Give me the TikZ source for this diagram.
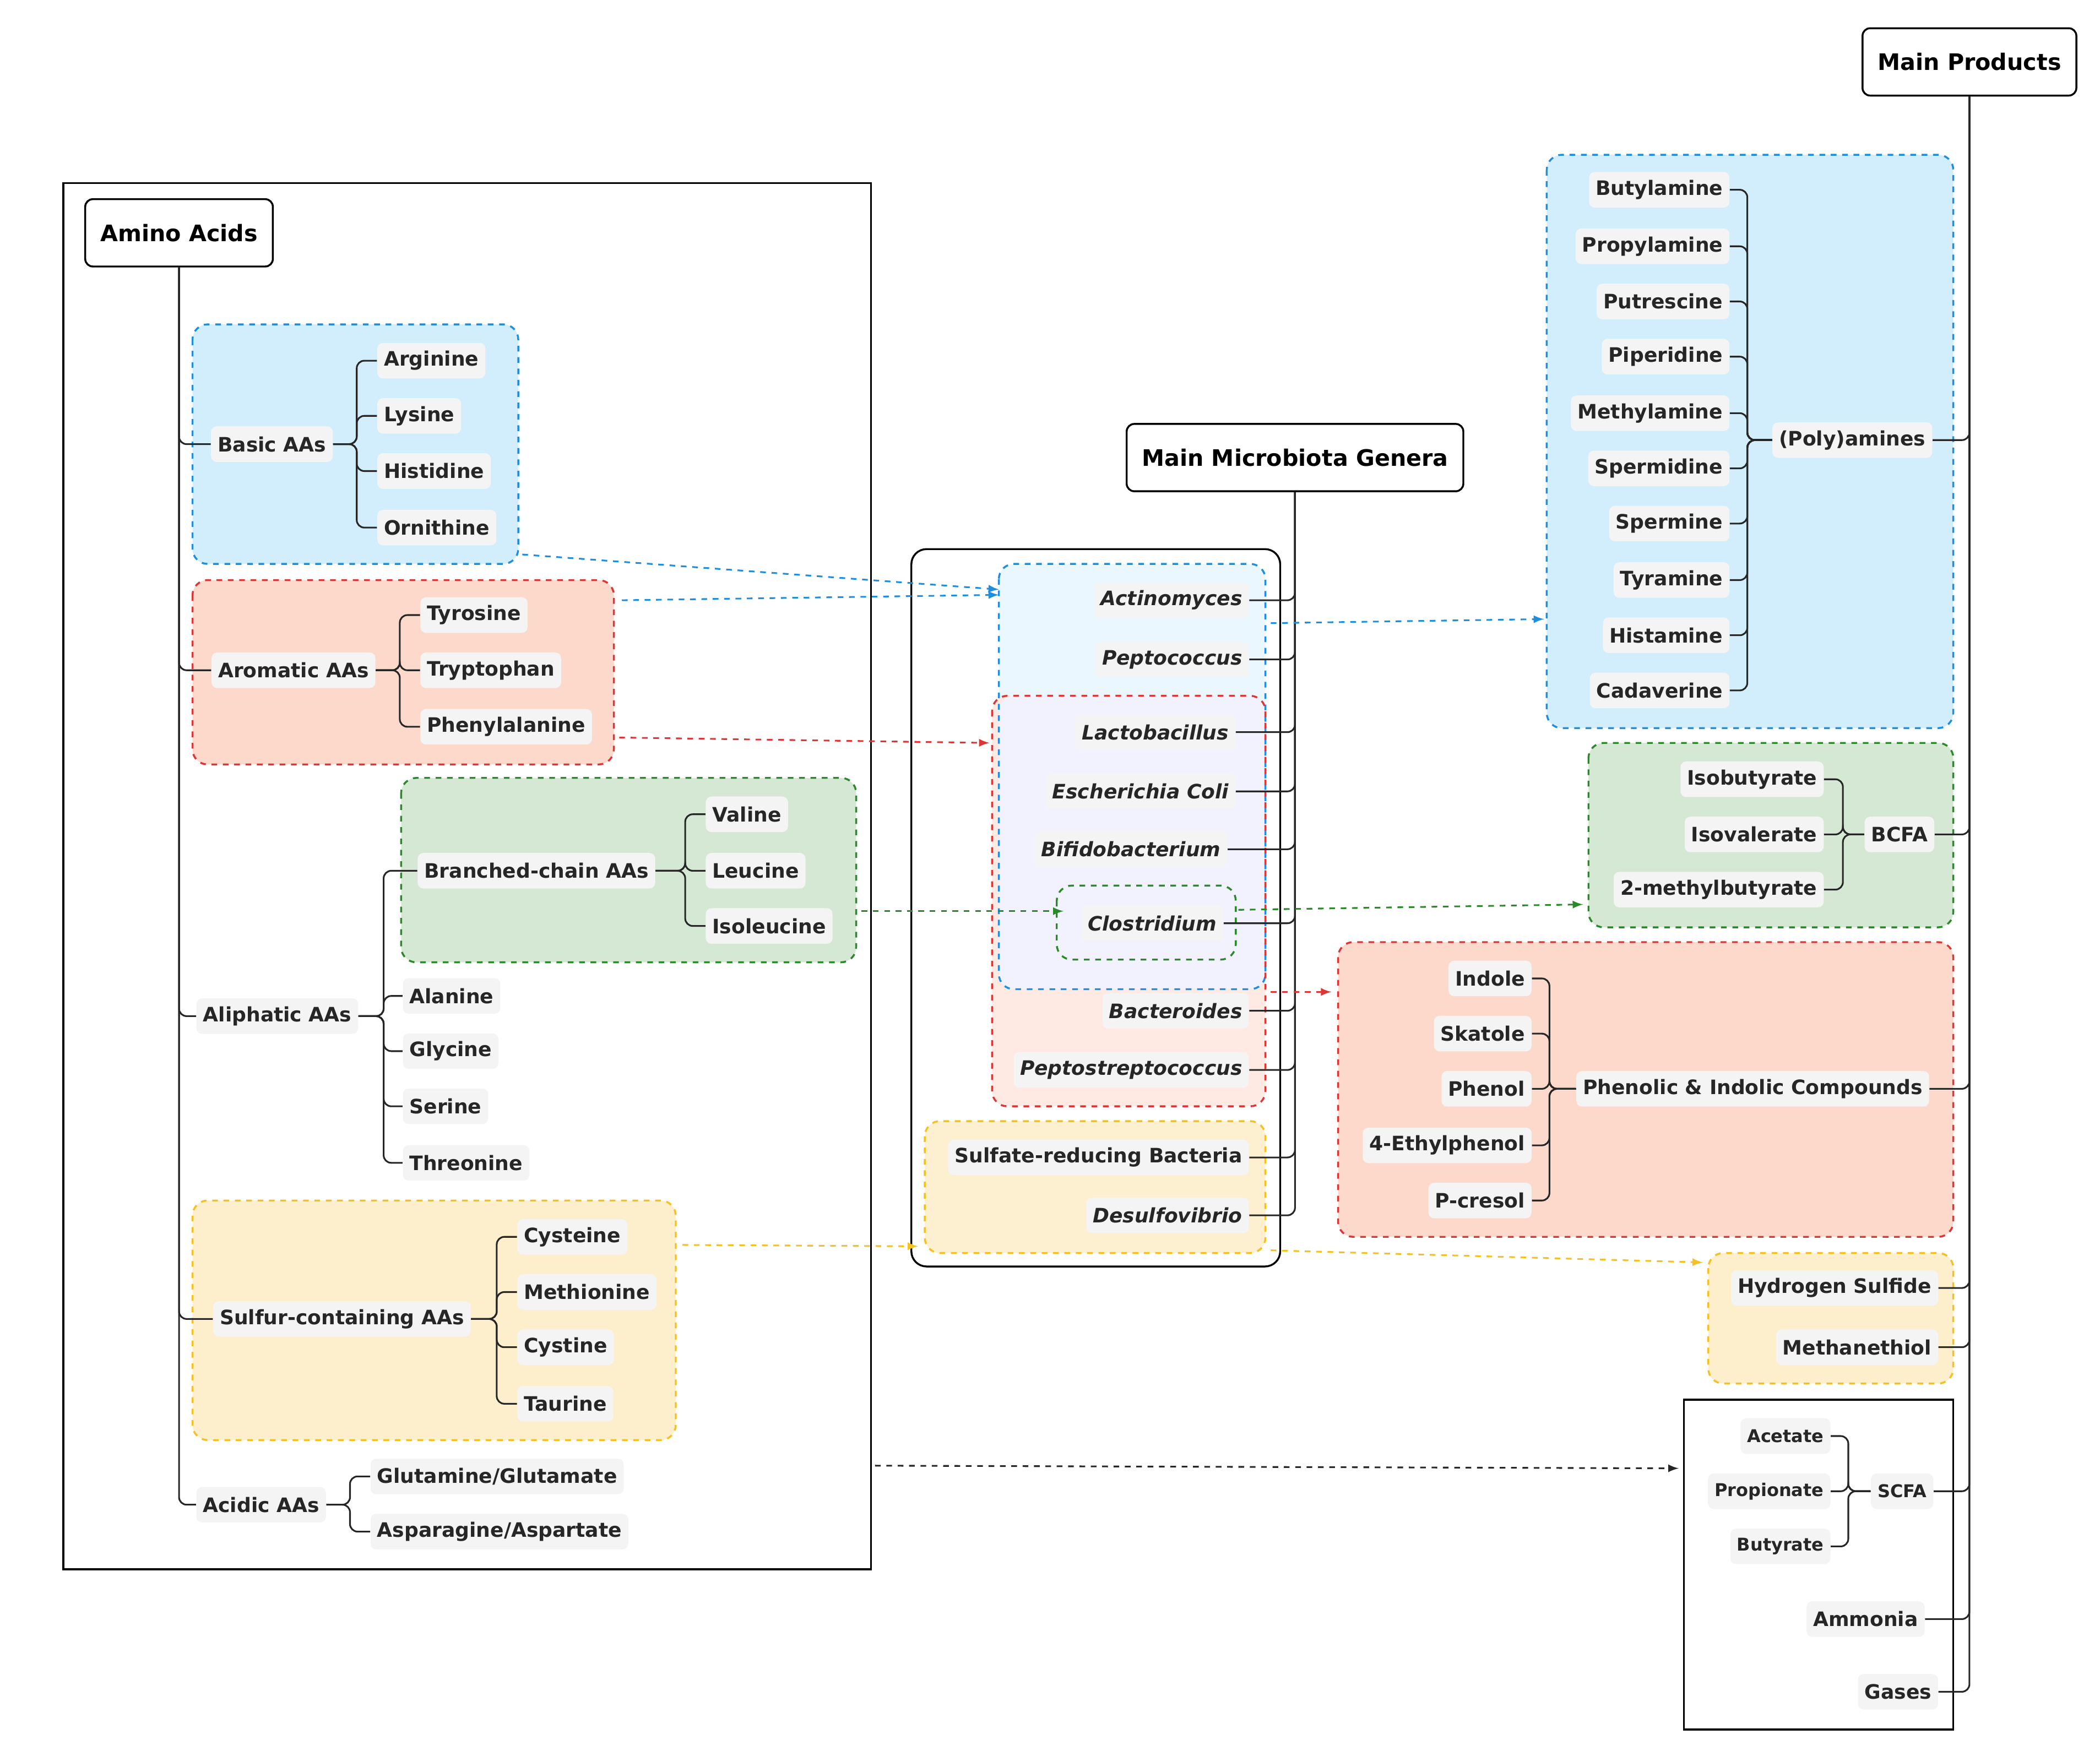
\documentclass[tikz,border=0pt]{standalone}
\usepackage{fontspec}
\setmainfont{DejaVu Sans}
\begin{document}
\begin{tikzpicture}[x=0.025cm,y=-0.025cm,
 lbl/.style={fill=gray!9,rounded corners=3pt,font=\fontsize{10.5}{12}\selectfont\bfseries,inner sep=3.5pt,minimum height=0.66cm,text=black!85},
 gen/.style={lbl,font=\fontsize{10.5}{12}\selectfont\bfseries\itshape},
 sml/.style={lbl,font=\fontsize{9.3}{11}\selectfont\bfseries},
 ttl/.style={draw=black,fill=white,rounded corners=4pt,line width=1pt,font=\fontsize{12}{14}\selectfont\bfseries,minimum height=1.25cm,inner xsep=8pt},
 ln/.style={draw=black!85,line width=0.9pt,rounded corners=4pt},
 dbox/.style={dashed,line width=1pt,rounded corners=8pt},
 arr/.style={dashed,line width=0.9pt,-latex}]
\useasboundingbox (0,0) rectangle (1560,1301);
\definecolor{bB}{HTML}{1E8FE0}\definecolor{bF}{HTML}{D2EEFC}
\definecolor{rB}{HTML}{E03535}\definecolor{rF}{HTML}{FDD9CC}
\definecolor{gB}{HTML}{2A8A2A}\definecolor{gF}{HTML}{D4E8D4}
\definecolor{yB}{HTML}{F5C020}\definecolor{yF}{HTML}{FDEECC}
% ---------------- left panel
\draw[line width=1pt] (47,136) rectangle (647,1166);
\draw[dbox,draw=bB,fill=bF] (143,241) rectangle (385,419);
\draw[dbox,draw=rB,fill=rF] (143,431) rectangle (456,568);
\draw[dbox,draw=gB,fill=gF] (298,578) rectangle (636,715);
\draw[dbox,draw=yB,fill=yF] (143,892) rectangle (502,1070);
\node[ttl] (aa) at (133,173) {Amino Acids};
\node[lbl] (basic) at (202,330) {Basic AAs};
\node[lbl] (arom) at (218,498) {Aromatic AAs};
\node[lbl] (aliph) at (206,755) {Aliphatic AAs};
\node[lbl] (sulf) at (254,980) {Sulfur-containing AAs};
\node[lbl] (acid) at (194,1118) {Acidic AAs};
\foreach \n in {basic,arom,aliph,sulf,acid} \draw[ln] (aa.south) |- (\n.west);
\node[lbl,anchor=west] (c1) at (280,268) {Arginine};
\node[lbl,anchor=west] (c2) at (280,309) {Lysine};
\node[lbl,anchor=west] (c3) at (280,350) {Histidine};
\node[lbl,anchor=west] (c4) at (280,392) {Ornithine};
\foreach \n in {c1,c2,c3,c4} \draw[ln] (basic.east) -- (265,330) |- (\n.west);
\node[lbl,anchor=west] (d1) at (312,457) {Tyrosine};
\node[lbl,anchor=west] (d2) at (312,498) {Tryptophan};
\node[lbl,anchor=west] (d3) at (312,540) {Phenylalanine};
\foreach \n in {d1,d2,d3} \draw[ln] (arom.east) -- (297,498) |- (\n.west);
\node[lbl,anchor=west] (bc) at (310,647) {Branched-chain AAs};
\node[lbl,anchor=west] (e2) at (299,740) {Alanine};
\node[lbl,anchor=west] (e3) at (299,781) {Glycine};
\node[lbl,anchor=west] (e4) at (299,822) {Serine};
\node[lbl,anchor=west] (e5) at (299,864) {Threonine};
\foreach \n in {bc,e2,e3,e4,e5} \draw[ln] (aliph.east) -- (285,755) |- (\n.west);
\node[lbl,anchor=west] (f1) at (524,605) {Valine};
\node[lbl,anchor=west] (f2) at (524,647) {Leucine};
\node[lbl,anchor=west] (f3) at (524,688) {Isoleucine};
\foreach \n in {f1,f2,f3} \draw[ln] (bc.east) -- (509,647) |- (\n.west);
\node[lbl,anchor=west] (g1) at (384,919) {Cysteine};
\node[lbl,anchor=west] (g2) at (384,960) {Methionine};
\node[lbl,anchor=west] (g3) at (384,1001) {Cystine};
\node[lbl,anchor=west] (g4) at (384,1043) {Taurine};
\foreach \n in {g1,g2,g3,g4} \draw[ln] (sulf.east) -- (369,980) |- (\n.west);
\node[lbl,anchor=west] (h1) at (275,1097) {Glutamine/Glutamate};
\node[lbl,anchor=west] (h2) at (275,1138) {Asparagine/Aspartate};
\foreach \n in {h1,h2} \draw[ln] (acid.east) -- (260,1118) |- (\n.west);
% ---------------- middle panel
\draw[line width=1pt,rounded corners=8pt] (677,408) rectangle (951,941);
\fill[rounded corners=8pt,fill=bF!45] (742,419) rectangle (940,735);
\fill[rounded corners=8pt,fill=rF!55] (737,517) rectangle (940,822);
\fill[rounded corners=8pt,fill=black!10!blue!5] (742,517) rectangle (940,735);
\draw[dbox,draw=bB] (742,419) rectangle (940,735);
\draw[dbox,draw=rB] (737,517) rectangle (940,822);
\draw[dbox,draw=yB,fill=yF!90!white] (687,833) rectangle (940,931);
\draw[dbox,draw=gB,fill=black!10!blue!5] (785,658) rectangle (918,713);
\node[ttl] (mm) at (962,340) {Main Microbiota Genera};
\node[gen,anchor=east] (m1) at (928,446) {Actinomyces};
\node[gen,anchor=east] (m2) at (928,490) {Peptococcus};
\node[gen,anchor=east] (m3) at (918,544) {Lactobacillus};
\node[gen,anchor=east] (m4) at (918,588) {Escherichia Coli};
\node[gen,anchor=east] (m5) at (912,631) {Bifidobacterium};
\node[gen,anchor=east] (m6) at (909,686) {Clostridium};
\node[gen,anchor=east] (m7) at (928,751) {Bacteroides};
\node[gen,anchor=east] (m8) at (928,795) {Peptostreptococcus};
\node[lbl,anchor=east] (m9) at (928,860) {Sulfate-reducing Bacteria};
\node[gen,anchor=east] (m10) at (928,903) {Desulfovibrio};
\foreach \n in {m1,m2,m3,m4,m5,m6,m7,m8,m9,m10} \draw[ln] (\n.east) -| (mm.south);
% ---------------- right panel
\draw[dbox,draw=bB,fill=bF] (1149,115) rectangle (1451,541);
\draw[dbox,draw=gB,fill=gF] (1180,552) rectangle (1451,689);
\draw[dbox,draw=rB,fill=rF] (994,700) rectangle (1451,919);
\draw[dbox,draw=yB,fill=yF] (1269,931) rectangle (1451,1028);
\draw[line width=1pt] (1251,1040) rectangle (1451,1285);
\node[ttl] (mp) at (1463,46) {Main Products};
\node[lbl] (pa) at (1376,327) {(Poly)amines};
\foreach \t/\y [count=\i] in {Butylamine/141,Propylamine/183,Putrescine/224,Piperidine/265,Methylamine/307,Spermidine/348,Spermine/389,Tyramine/431,Histamine/472,Cadaverine/513}{
 \node[lbl,anchor=east] (p\i) at (1285,\y) {\t};
 \draw[ln] (pa.west) -- (1298,327) |- (p\i.east);}
\node[lbl] (bcfa) at (1411,620) {BCFA};
\node[lbl,anchor=east] (q1) at (1355,579) {Isobutyrate};
\node[lbl,anchor=east] (q2) at (1355,620) {Isovalerate};
\node[lbl,anchor=east] (q3) at (1355,661) {2-methylbutyrate};
\foreach \n in {q1,q2,q3} \draw[ln] (bcfa.west) -- (1369,620) |- (\n.east);
\node[lbl] (phen) at (1302,809) {Phenolic \& Indolic Compounds};
\foreach \t/\y [count=\i] in {Indole/727,Skatole/768,Phenol/809,4-Ethylphenol/851,P-cresol/892}{
 \node[lbl,anchor=east] (r\i) at (1138,\y) {\t};
 \draw[ln] (phen.west) -- (1151,809) |- (r\i.east);}
\node[lbl,anchor=east] (hs) at (1440,957) {Hydrogen Sulfide};
\node[lbl,anchor=east] (mt) at (1440,1001) {Methanethiol};
\node[sml] (scfa) at (1413,1108) {SCFA};
\node[sml,anchor=east] (s1) at (1360,1067) {Acetate};
\node[sml,anchor=east] (s2) at (1360,1108) {Propionate};
\node[sml,anchor=east] (s3) at (1360,1149) {Butyrate};
\foreach \n in {s1,s2,s3} \draw[ln] (scfa.west) -- (1373,1108) |- (\n.east);
\node[lbl,anchor=east] (am) at (1430,1203) {Ammonia};
\node[lbl,anchor=east] (gs) at (1440,1257) {Gases};
\foreach \n in {pa,bcfa,phen,hs,mt,scfa,am,gs} \draw[ln] (\n.east) -| (mp.south);
% ---------------- arrows
\coordinate (a1) at (388,412); \coordinate (a1e) at (742,438);
\coordinate (a2) at (462,446); \coordinate (a2e) at (742,442);
\coordinate (a3) at (944,463); \coordinate (a3e) at (1147,460);
\coordinate (b1) at (460,548); \coordinate (b1e) at (735,552);
\coordinate (b2) at (944,737); \coordinate (b2e) at (989,737);
\coordinate (c1a) at (640,677); \coordinate (c1e) at (790,677);
\coordinate (c2a) at (920,676); \coordinate (c2e) at (1176,672);
\coordinate (y1) at (507,925); \coordinate (y1e) at (682,926);
\coordinate (y2) at (944,929); \coordinate (y2e) at (1265,938);
\coordinate (k1) at (650,1089); \coordinate (k1e) at (1247,1091);
\draw[arr,draw=bB] (a1) -- (a1e);
\draw[arr,draw=bB] (a2) -- (a2e);
\draw[arr,draw=bB] (a3) -- (a3e);
\draw[arr,draw=rB] (b1) -- (b1e);
\draw[arr,draw=rB] (b2) -- (b2e);
\draw[arr,draw=gB] (c1a) -- (c1e);
\draw[arr,draw=gB] (c2a) -- (c2e);
\draw[arr,draw=yB] (y1) -- (y1e);
\draw[arr,draw=yB] (y2) -- (y2e);
\draw[arr,draw=black!85] (k1) -- (k1e);
\end{tikzpicture}
\end{document}
